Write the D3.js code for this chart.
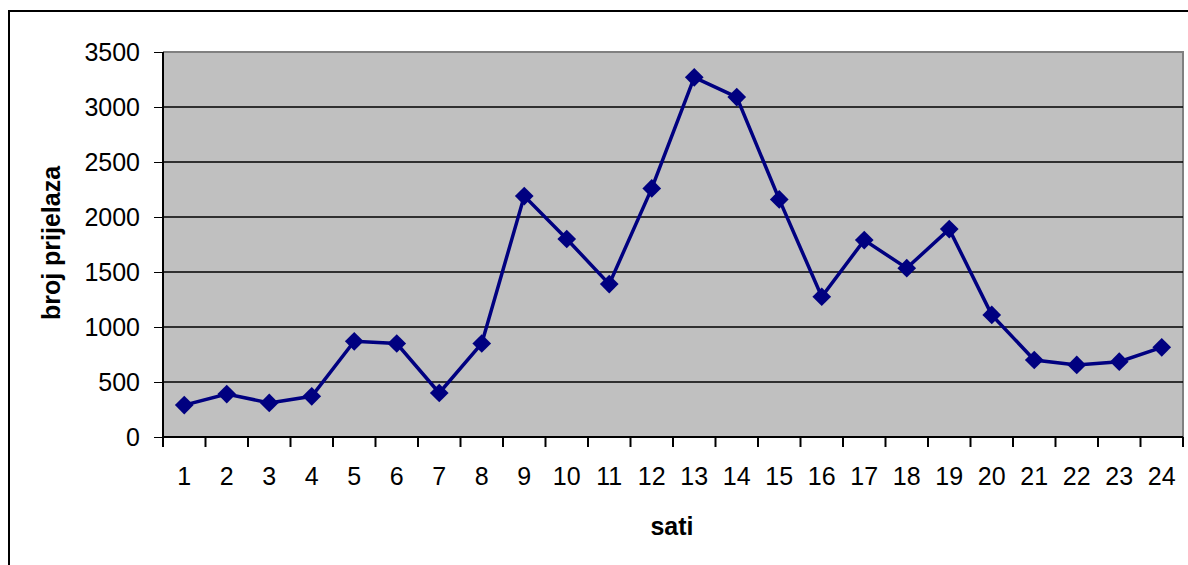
<!DOCTYPE html>
<html>
<head>
<meta charset="utf-8">
<script src="https://cdn.jsdelivr.net/npm/d3@7"></script>
<style>
  body { margin: 0; background: #fff; }
  text { font-family: "Liberation Sans", Arial, sans-serif; fill: #000; }
  .axis-label { font-weight: bold; }
</style>
</head>
<body>
<div id="chart"></div>
<script>
// 1: DATA
const hours = d3.range(1, 25);
const counts = [290, 390, 310, 370, 870, 850, 400, 850, 2190, 1800, 1390, 2260,
                3270, 3090, 2160, 1275, 1790, 1535, 1890, 1110, 700, 655, 685, 815];
const yTicks = [0, 500, 1000, 1500, 2000, 2500, 3000, 3500];

const W = 1188, H = 565;
const plot = { left: 163, right: 1183, top: 52, bottom: 437 };

const svg = d3.select("#chart")
    .append("svg")
    .attr("width", W)
    .attr("height", H);

// outer chart border (runs off the right and bottom edges)
svg.append("rect")
    .attr("x", 9).attr("y", 11)
    .attr("width", W).attr("height", H)
    .attr("fill", "none")
    .attr("stroke", "#000")
    .attr("stroke-width", 2);

// 2: SCALES
const x = d3.scaleBand()
    .domain(hours)
    .range([plot.left, plot.right]);

const y = d3.scaleLinear()
    .domain([0, 3500])
    .range([plot.bottom, plot.top]);

// 3: PLOT AREA
svg.append("rect")
    .attr("x", plot.left).attr("y", plot.top)
    .attr("width", plot.right - plot.left)
    .attr("height", plot.bottom - plot.top)
    .attr("fill", "#c0c0c0");

// gray top / right edges
svg.append("path")
    .attr("d", `M${plot.left},${plot.top}H${plot.right}V${plot.bottom}`)
    .attr("fill", "none")
    .attr("stroke", "#808080")
    .attr("stroke-width", 2);

// gridlines
svg.append("g")
    .selectAll("line")
    .data(yTicks.filter(d => d > 0 && d < 3500))
    .join("line")
    .attr("x1", plot.left).attr("x2", plot.right)
    .attr("y1", d => y(d)).attr("y2", d => y(d))
    .attr("stroke", "#000")
    .attr("stroke-width", 1.5);

// 4: AXES
const yAxis = svg.append("g")
    .attr("transform", `translate(${plot.left},0)`)
    .call(d3.axisLeft(y).tickValues(yTicks).tickFormat(d3.format("d")).tickSize(9).tickPadding(14));
yAxis.selectAll("text").style("font-size", "25px");
yAxis.select(".domain").attr("stroke-width", 2).attr("d", `M0,${plot.top}V${plot.bottom}`);

const xAxis = svg.append("g")
    .attr("transform", `translate(0,${plot.bottom})`)
    .call(d3.axisBottom(x).tickSize(0).tickPadding(30));
xAxis.selectAll("text").style("font-size", "25px");
xAxis.select(".domain").attr("stroke-width", 2).attr("d", `M${plot.left},0H${plot.right}`);

// category boundary ticks
xAxis.append("g")
    .selectAll("line")
    .data(hours.concat([25]))
    .join("line")
    .attr("x1", d => d === 25 ? plot.right : x(d))
    .attr("x2", d => d === 25 ? plot.right : x(d))
    .attr("y1", 0).attr("y2", 10)
    .attr("stroke", "#000")
    .attr("stroke-width", 2);

// 5: LINE + MARKERS
const line = d3.line()
    .x((d, i) => x(hours[i]) + x.bandwidth() / 2)
    .y(d => y(d));

svg.append("path")
    .datum(counts)
    .attr("d", line)
    .attr("fill", "none")
    .attr("stroke", "#000080")
    .attr("stroke-width", 3.5);

svg.append("g")
    .selectAll("path")
    .data(counts)
    .join("path")
    .attr("d", d3.symbol(d3.symbolSquare, 175))
    .attr("transform", (d, i) => `translate(${x(hours[i]) + x.bandwidth() / 2},${y(d)}) rotate(45)`)
    .attr("fill", "#000080");

// 6: LABELS
svg.append("text")
    .attr("class", "axis-label")
    .attr("x", 672)
    .attr("y", 535)
    .attr("text-anchor", "middle")
    .style("font-size", "25px")
    .text("sati");

svg.append("text")
    .attr("class", "axis-label")
    .attr("transform", "translate(60,243) rotate(-90)")
    .attr("text-anchor", "middle")
    .style("font-size", "25px")
    .text("broj prijelaza");
</script>
</body>
</html>
